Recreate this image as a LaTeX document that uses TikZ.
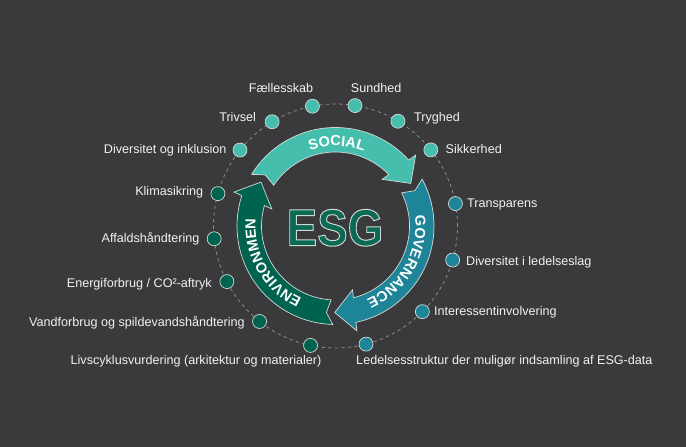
\documentclass[tikz,border=0pt]{standalone}
\usepackage{fontspec}
\setmainfont{Liberation Sans}
\usetikzlibrary{decorations.text}
\definecolor{bg}{HTML}{3A393B}
\definecolor{socialc}{HTML}{45BEAD}
\definecolor{govc}{HTML}{1E8498}
\definecolor{envc}{HTML}{00634F}
\definecolor{esgc}{HTML}{0A6A55}
\definecolor{rimc}{HTML}{D5DAD6}
\definecolor{dashc}{HTML}{8C8C8C}
\definecolor{txtc}{HTML}{F2F2F2}
\newcommand\arrowtxt{\color{white}\bfseries\fontsize{14.5}{14.5}\selectfont}
\newcommand\esgoutline{\special{pdf:literal direct 0.82 0.85 0.83 RG 1.0 w 2 Tr}}
\newcommand\esgreset{\special{pdf:literal direct 0 Tr}}
\begin{document}
\begin{tikzpicture}[x=1pt,y=1pt,
  lbl/.style={text=txtc, font=\fontsize{12.6}{15}\selectfont, inner sep=0pt, text height=9pt, text depth=0pt},
  dot/.style={circle, draw=rimc, line width=0.7pt, minimum size=14pt, inner sep=0pt},
  arrowband/.style={draw=rimc, line width=0.7pt, line join=miter},
  bandtext/.style={decorate, decoration={text along path, text align=center, text={#1}}}
]
\fill[bg] (0,0) rectangle (686,447);
\useasboundingbox (0,0) rectangle (686,447);
\coordinate (C) at (335.5,221);
\draw[dashc, line width=0.8pt, dash pattern=on 3.3pt off 3.3pt] (C) circle[radius=122];

% arrows
\begin{scope}[shift={(C)}]
  \foreach \rot/\col in {0/socialc, -120/govc, -240/envc} {
    \begin{scope}[rotate=\rot]
      \filldraw[fill=\col, arrowband] (148.4:98.5) arc[start angle=148.4, end angle=42, radius=98.5]
        -- (41.5:107) -- (29.5:86.5) -- (45:66) -- (44:74)
        arc[start angle=44, end angle=146.6, radius=74] -- (144:87) -- cycle;
    \end{scope}
  }
  \path[bandtext={|\arrowtxt|SOCIAL}] (139:80) arc[start angle=139, end angle=39, radius=80];
  \path[bandtext={|\arrowtxt|GOVERNANCE}] (20:80) arc[start angle=20, end angle=-80, radius=80];
  \path[bandtext={|\arrowtxt|ENVIRONMEN}] (260:80) arc[start angle=260, end angle=160, radius=80];
\end{scope}

\node[font=\bfseries\fontsize{52}{52}\selectfont, text=esgc, anchor=base, inner sep=0pt, xscale=0.88] (esg) at (335,201.3) {\esgoutline ESG\esgreset};

% dots
\node[dot, fill=socialc] (fael) at ([shift={(100.9:122)}]C) {};
\node[dot, fill=socialc] (sund) at ([shift={(80.8:122)}]C) {};
\node[dot, fill=socialc] (tryg) at ([shift={(59.2:122)}]C) {};
\node[dot, fill=socialc] (sikk) at ([shift={(38.6:122)}]C) {};
\node[dot, fill=govc] (trans) at ([shift={(10.6:122)}]C) {};
\node[dot, fill=govc] (divi) at ([shift={(-16.2:122)}]C) {};
\node[dot, fill=govc] (inter) at ([shift={(-44.6:122)}]C) {};
\node[dot, fill=govc] (ledel) at ([shift={(-75.5:122)}]C) {};
\node[dot, fill=envc] (livs) at ([shift={(258.2:122)}]C) {};
\node[dot, fill=envc] (vand) at ([shift={(231.5:122)}]C) {};
\node[dot, fill=envc] (ener) at ([shift={(207.1:122)}]C) {};
\node[dot, fill=envc] (affa) at ([shift={(186:122)}]C) {};
\node[dot, fill=envc] (klim) at ([shift={(164.6:122)}]C) {};
\node[dot, fill=socialc] (divo) at ([shift={(141.5:122)}]C) {};
\node[dot, fill=socialc] (triv) at ([shift={(121.3:122)}]C) {};

% labels
\node[lbl, anchor=east] (lfael) at ([shift={(1,18)}]fael.center) {Fællesskab};
\node[lbl, anchor=west] (lsund) at ([shift={(-4.3,17.3)}]sund.center) {Sundhed};
\node[lbl, anchor=west] (ltryg) at ([shift={(16,4.5)}]tryg.center) {Tryghed};
\node[lbl, anchor=west] (lsikk) at ([shift={(14.7,1.2)}]sikk.center) {Sikkerhed};
\node[lbl, anchor=west] (ltrans) at ([shift={(11.5,0.6)}]trans.center) {Transparens};
\node[lbl, anchor=west] (ldivi) at ([shift={(13.3,-1)}]divi.center) {Diversitet i ledelseslag};
\node[lbl, anchor=west] (linter) at ([shift={(11.5,0.7)}]inter.center) {Interessentinvolvering};
\node[lbl, anchor=west] (lledel) at ([shift={(-10,-15.9)}]ledel.center) {Ledelsesstruktur der muligør indsamling af ESG-data};
\node[lbl, anchor=east] (llivs) at ([shift={(11,-14.5)}]livs.center) {Livscyklusvurdering (arkitektur og materialer)};
\node[lbl, anchor=east] (lvand) at ([shift={(-14.6,-0.5)}]vand.center) {Vandforbrug og spildevandshåndtering};
\node[lbl, anchor=east] (lener) at ([shift={(-14.9,-1.1)}]ener.center) {Energiforbrug / CO²-aftryk};
\node[lbl, anchor=east] (laffa) at ([shift={(-14.5,0.4)}]affa.center) {Affaldshåndtering};
\node[lbl, anchor=east] (lklim) at ([shift={(-14.5,2.6)}]klim.center) {Klimasikring};
\node[lbl, anchor=east] (ldivo) at ([shift={(-13.3,0.9)}]divo.center) {Diversitet og inklusion};
\node[lbl, anchor=east] (ltriv) at ([shift={(-16,5)}]triv.center) {Trivsel};
\end{tikzpicture}
\end{document}
